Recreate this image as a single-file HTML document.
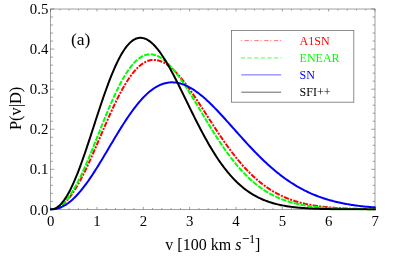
<!DOCTYPE html>
<html><head><meta charset="utf-8"><title>P(v|D)</title>
<style>html,body{margin:0;padding:0;background:#fff;}body{width:415px;height:260px;overflow:hidden;}svg{display:block;will-change:transform;}text{font-family:"Liberation Serif",serif;fill:#000;}</style></head><body>
<svg width="415" height="260" viewBox="0 0 415 260">
<rect x="0" y="0" width="415" height="260" fill="#ffffff"/>
<rect x="50.6" y="9" width="324.4" height="200.4" stroke="#444444" stroke-width="0.5" fill="none"/>
<path d="M50.60,209.40 v-2.50 M50.60,9.00 v2.50 M59.87,209.40 v-1.50 M59.87,9.00 v1.50 M69.14,209.40 v-1.50 M69.14,9.00 v1.50 M78.41,209.40 v-1.50 M78.41,9.00 v1.50 M87.67,209.40 v-1.50 M87.67,9.00 v1.50 M96.94,209.40 v-2.50 M96.94,9.00 v2.50 M106.21,209.40 v-1.50 M106.21,9.00 v1.50 M115.48,209.40 v-1.50 M115.48,9.00 v1.50 M124.75,209.40 v-1.50 M124.75,9.00 v1.50 M134.02,209.40 v-1.50 M134.02,9.00 v1.50 M143.29,209.40 v-2.50 M143.29,9.00 v2.50 M152.55,209.40 v-1.50 M152.55,9.00 v1.50 M161.82,209.40 v-1.50 M161.82,9.00 v1.50 M171.09,209.40 v-1.50 M171.09,9.00 v1.50 M180.36,209.40 v-1.50 M180.36,9.00 v1.50 M189.63,209.40 v-2.50 M189.63,9.00 v2.50 M198.90,209.40 v-1.50 M198.90,9.00 v1.50 M208.17,209.40 v-1.50 M208.17,9.00 v1.50 M217.43,209.40 v-1.50 M217.43,9.00 v1.50 M226.70,209.40 v-1.50 M226.70,9.00 v1.50 M235.97,209.40 v-2.50 M235.97,9.00 v2.50 M245.24,209.40 v-1.50 M245.24,9.00 v1.50 M254.51,209.40 v-1.50 M254.51,9.00 v1.50 M263.78,209.40 v-1.50 M263.78,9.00 v1.50 M273.05,209.40 v-1.50 M273.05,9.00 v1.50 M282.31,209.40 v-2.50 M282.31,9.00 v2.50 M291.58,209.40 v-1.50 M291.58,9.00 v1.50 M300.85,209.40 v-1.50 M300.85,9.00 v1.50 M310.12,209.40 v-1.50 M310.12,9.00 v1.50 M319.39,209.40 v-1.50 M319.39,9.00 v1.50 M328.66,209.40 v-2.50 M328.66,9.00 v2.50 M337.93,209.40 v-1.50 M337.93,9.00 v1.50 M347.19,209.40 v-1.50 M347.19,9.00 v1.50 M356.46,209.40 v-1.50 M356.46,9.00 v1.50 M365.73,209.40 v-1.50 M365.73,9.00 v1.50 M375.00,209.40 v-2.50 M375.00,9.00 v2.50 M50.60,209.40 h3.80 M375.00,209.40 h-3.80 M50.60,201.38 h2.40 M375.00,201.38 h-2.40 M50.60,193.37 h2.40 M375.00,193.37 h-2.40 M50.60,185.35 h2.40 M375.00,185.35 h-2.40 M50.60,177.34 h2.40 M375.00,177.34 h-2.40 M50.60,169.32 h3.80 M375.00,169.32 h-3.80 M50.60,161.30 h2.40 M375.00,161.30 h-2.40 M50.60,153.29 h2.40 M375.00,153.29 h-2.40 M50.60,145.27 h2.40 M375.00,145.27 h-2.40 M50.60,137.26 h2.40 M375.00,137.26 h-2.40 M50.60,129.24 h3.80 M375.00,129.24 h-3.80 M50.60,121.22 h2.40 M375.00,121.22 h-2.40 M50.60,113.21 h2.40 M375.00,113.21 h-2.40 M50.60,105.19 h2.40 M375.00,105.19 h-2.40 M50.60,97.18 h2.40 M375.00,97.18 h-2.40 M50.60,89.16 h3.80 M375.00,89.16 h-3.80 M50.60,81.14 h2.40 M375.00,81.14 h-2.40 M50.60,73.13 h2.40 M375.00,73.13 h-2.40 M50.60,65.11 h2.40 M375.00,65.11 h-2.40 M50.60,57.10 h2.40 M375.00,57.10 h-2.40 M50.60,49.08 h3.80 M375.00,49.08 h-3.80 M50.60,41.06 h2.40 M375.00,41.06 h-2.40 M50.60,33.05 h2.40 M375.00,33.05 h-2.40 M50.60,25.03 h2.40 M375.00,25.03 h-2.40 M50.60,17.02 h2.40 M375.00,17.02 h-2.40 M50.60,9.00 h3.80 M375.00,9.00 h-3.80" stroke="#444444" stroke-width="0.5" fill="none"/>
<defs><clipPath id="c"><rect x="50.1" y="8" width="325.6" height="202.6"/></clipPath></defs>
<g clip-path="url(#c)" fill="none" stroke-linejoin="round">
<path d="M50.60,209.40 L51.76,209.36 L52.92,209.24 L54.08,209.03 L55.23,208.74 L56.39,208.34 L57.55,207.86 L58.71,207.28 L59.87,206.61 L61.03,205.84 L62.19,204.98 L63.34,204.03 L64.50,202.98 L65.66,201.84 L66.82,200.61 L67.98,199.29 L69.14,197.89 L70.30,196.40 L71.45,194.82 L72.61,193.17 L73.77,191.43 L74.93,189.62 L76.09,187.73 L77.25,185.77 L78.41,183.75 L79.56,181.65 L80.72,179.49 L81.88,177.27 L83.04,175.00 L84.20,172.67 L85.36,170.29 L86.52,167.86 L87.67,165.39 L88.83,162.88 L89.99,160.34 L91.15,157.76 L92.31,155.15 L93.47,152.51 L94.63,149.86 L95.78,147.18 L96.94,144.50 L98.10,141.80 L99.26,139.09 L100.42,136.38 L101.58,133.68 L102.74,130.98 L103.89,128.28 L105.05,125.60 L106.21,122.93 L107.37,120.28 L108.53,117.66 L109.69,115.06 L110.85,112.49 L112.00,109.95 L113.16,107.45 L114.32,104.99 L115.48,102.57 L116.64,100.19 L117.80,97.86 L118.96,95.59 L120.11,93.36 L121.27,91.20 L122.43,89.09 L123.59,87.04 L124.75,85.05 L125.91,83.13 L127.07,81.28 L128.22,79.49 L129.38,77.78 L130.54,76.14 L131.70,74.57 L132.86,73.08 L134.02,71.66 L135.18,70.33 L136.33,69.07 L137.49,67.89 L138.65,66.79 L139.81,65.77 L140.97,64.83 L142.13,63.97 L143.29,63.20 L144.44,62.51 L145.60,61.90 L146.76,61.37 L147.92,60.93 L149.08,60.56 L150.24,60.28 L151.40,60.08 L152.55,59.96 L153.71,59.91 L154.87,59.95 L156.03,60.06 L157.19,60.24 L158.35,60.50 L159.51,60.82 L160.66,61.22 L161.82,61.69 L162.98,62.22 L164.14,62.82 L165.30,63.48 L166.46,64.21 L167.62,65.00 L168.77,65.85 L169.93,66.76 L171.09,67.72 L172.25,68.74 L173.41,69.82 L174.57,70.94 L175.73,72.12 L176.88,73.34 L178.04,74.60 L179.20,75.92 L180.36,77.27 L181.52,78.66 L182.68,80.09 L183.84,81.56 L184.99,83.06 L186.15,84.60 L187.31,86.16 L188.47,87.76 L189.63,89.38 L190.79,91.02 L191.95,92.69 L193.10,94.38 L194.26,96.09 L195.42,97.81 L196.58,99.55 L197.74,101.31 L198.90,103.08 L200.06,104.85 L201.21,106.64 L202.37,108.43 L203.53,110.23 L204.69,112.03 L205.85,113.83 L207.01,115.64 L208.17,117.44 L209.32,119.24 L210.48,121.04 L211.64,122.83 L212.80,124.62 L213.96,126.40 L215.12,128.17 L216.28,129.93 L217.43,131.68 L218.59,133.42 L219.75,135.14 L220.91,136.85 L222.07,138.55 L223.23,140.23 L224.39,141.89 L225.54,143.54 L226.70,145.16 L227.86,146.77 L229.02,148.36 L230.18,149.93 L231.34,151.48 L232.50,153.00 L233.65,154.51 L234.81,155.99 L235.97,157.45 L237.13,158.88 L238.29,160.30 L239.45,161.69 L240.61,163.05 L241.76,164.39 L242.92,165.71 L244.08,167.00 L245.24,168.26 L246.40,169.50 L247.56,170.72 L248.72,171.91 L249.87,173.08 L251.03,174.22 L252.19,175.34 L253.35,176.43 L254.51,177.49 L255.67,178.54 L256.83,179.55 L257.98,180.54 L259.14,181.51 L260.30,182.46 L261.46,183.38 L262.62,184.28 L263.78,185.15 L264.94,186.00 L266.09,186.83 L267.25,187.63 L268.41,188.42 L269.57,189.18 L270.73,189.92 L271.89,190.63 L273.05,191.33 L274.20,192.01 L275.36,192.67 L276.52,193.30 L277.68,193.92 L278.84,194.52 L280.00,195.10 L281.16,195.66 L282.31,196.20 L283.47,196.73 L284.63,197.23 L285.79,197.72 L286.95,198.20 L288.11,198.66 L289.27,199.10 L290.42,199.53 L291.58,199.94 L292.74,200.34 L293.90,200.72 L295.06,201.09 L296.22,201.45 L297.38,201.79 L298.53,202.12 L299.69,202.44 L300.85,202.75 L302.01,203.05 L303.17,203.33 L304.33,203.60 L305.49,203.86 L306.64,204.12 L307.80,204.36 L308.96,204.59 L310.12,204.81 L311.28,205.03 L312.44,205.23 L313.60,205.43 L314.75,205.62 L315.91,205.80 L317.07,205.97 L318.23,206.14 L319.39,206.29 L320.55,206.45 L321.71,206.59 L322.86,206.73 L324.02,206.86 L325.18,206.99 L326.34,207.11 L327.50,207.23 L328.66,207.34 L329.82,207.44 L330.97,207.54 L332.13,207.64 L333.29,207.73 L334.45,207.82 L335.61,207.90 L336.77,207.98 L337.93,208.05 L339.08,208.12 L340.24,208.19 L341.40,208.26 L342.56,208.32 L343.72,208.38 L344.88,208.43 L346.04,208.49 L347.19,208.54 L348.35,208.58 L349.51,208.63 L350.67,208.67 L351.83,208.71 L352.99,208.75 L354.15,208.79 L355.30,208.82 L356.46,208.86 L357.62,208.89 L358.78,208.92 L359.94,208.95 L361.10,208.97 L362.26,209.00 L363.41,209.02 L364.57,209.04 L365.73,209.06 L366.89,209.08 L368.05,209.10 L369.21,209.12 L370.37,209.14 L371.52,209.15 L372.68,209.17 L373.84,209.18 L375.00,209.20" stroke="#ff0000" stroke-width="2" stroke-dasharray="0.01,3.325,3.325,3.325" stroke-linecap="square"/>
<path d="M50.60,209.40 L51.76,209.36 L52.92,209.22 L54.08,208.99 L55.23,208.66 L56.39,208.22 L57.55,207.67 L58.71,207.03 L59.87,206.27 L61.03,205.42 L62.19,204.45 L63.34,203.39 L64.50,202.22 L65.66,200.94 L66.82,199.57 L67.98,198.10 L69.14,196.54 L70.30,194.88 L71.45,193.12 L72.61,191.28 L73.77,189.35 L74.93,187.34 L76.09,185.24 L77.25,183.07 L78.41,180.82 L79.56,178.51 L80.72,176.12 L81.88,173.67 L83.04,171.16 L84.20,168.60 L85.36,165.98 L86.52,163.31 L87.67,160.60 L88.83,157.85 L89.99,155.07 L91.15,152.25 L92.31,149.41 L93.47,146.54 L94.63,143.66 L95.78,140.76 L96.94,137.85 L98.10,134.93 L99.26,132.02 L100.42,129.11 L101.58,126.20 L102.74,123.31 L103.89,120.43 L105.05,117.58 L106.21,114.74 L107.37,111.94 L108.53,109.17 L109.69,106.43 L110.85,103.74 L112.00,101.09 L113.16,98.48 L114.32,95.93 L115.48,93.42 L116.64,90.98 L117.80,88.60 L118.96,86.27 L120.11,84.02 L121.27,81.83 L122.43,79.72 L123.59,77.67 L124.75,75.71 L125.91,73.82 L127.07,72.01 L128.22,70.28 L129.38,68.64 L130.54,67.08 L131.70,65.60 L132.86,64.22 L134.02,62.92 L135.18,61.71 L136.33,60.59 L137.49,59.57 L138.65,58.63 L139.81,57.79 L140.97,57.04 L142.13,56.38 L143.29,55.81 L144.44,55.33 L145.60,54.94 L146.76,54.65 L147.92,54.44 L149.08,54.33 L150.24,54.30 L151.40,54.36 L152.55,54.50 L153.71,54.72 L154.87,55.02 L156.03,55.40 L157.19,55.86 L158.35,56.40 L159.51,57.01 L160.66,57.70 L161.82,58.45 L162.98,59.28 L164.14,60.17 L165.30,61.13 L166.46,62.15 L167.62,63.24 L168.77,64.38 L169.93,65.58 L171.09,66.84 L172.25,68.15 L173.41,69.52 L174.57,70.93 L175.73,72.39 L176.88,73.89 L178.04,75.44 L179.20,77.02 L180.36,78.65 L181.52,80.31 L182.68,82.00 L183.84,83.72 L184.99,85.48 L186.15,87.26 L187.31,89.06 L188.47,90.89 L189.63,92.74 L190.79,94.61 L191.95,96.49 L193.10,98.39 L194.26,100.29 L195.42,102.21 L196.58,104.14 L197.74,106.08 L198.90,108.01 L200.06,109.96 L201.21,111.90 L202.37,113.84 L203.53,115.78 L204.69,117.72 L205.85,119.65 L207.01,121.57 L208.17,123.48 L209.32,125.39 L210.48,127.28 L211.64,129.16 L212.80,131.03 L213.96,132.88 L215.12,134.72 L216.28,136.54 L217.43,138.34 L218.59,140.12 L219.75,141.89 L220.91,143.63 L222.07,145.35 L223.23,147.04 L224.39,148.72 L225.54,150.37 L226.70,152.00 L227.86,153.60 L229.02,155.18 L230.18,156.73 L231.34,158.25 L232.50,159.75 L233.65,161.22 L234.81,162.66 L235.97,164.08 L237.13,165.47 L238.29,166.83 L239.45,168.16 L240.61,169.47 L241.76,170.75 L242.92,172.00 L244.08,173.22 L245.24,174.41 L246.40,175.58 L247.56,176.72 L248.72,177.83 L249.87,178.91 L251.03,179.97 L252.19,181.00 L253.35,182.00 L254.51,182.97 L255.67,183.92 L256.83,184.85 L257.98,185.75 L259.14,186.62 L260.30,187.47 L261.46,188.29 L262.62,189.09 L263.78,189.87 L264.94,190.62 L266.09,191.35 L267.25,192.05 L268.41,192.74 L269.57,193.40 L270.73,194.04 L271.89,194.66 L273.05,195.26 L274.20,195.84 L275.36,196.40 L276.52,196.94 L277.68,197.47 L278.84,197.97 L280.00,198.46 L281.16,198.93 L282.31,199.38 L283.47,199.82 L284.63,200.24 L285.79,200.64 L286.95,201.03 L288.11,201.40 L289.27,201.76 L290.42,202.11 L291.58,202.44 L292.74,202.76 L293.90,203.07 L295.06,203.36 L296.22,203.65 L297.38,203.92 L298.53,204.18 L299.69,204.43 L300.85,204.67 L302.01,204.90 L303.17,205.11 L304.33,205.32 L305.49,205.52 L306.64,205.72 L307.80,205.90 L308.96,206.08 L310.12,206.24 L311.28,206.40 L312.44,206.56 L313.60,206.70 L314.75,206.84 L315.91,206.97 L317.07,207.10 L318.23,207.22 L319.39,207.34 L320.55,207.45 L321.71,207.55 L322.86,207.65 L324.02,207.74 L325.18,207.83 L326.34,207.92 L327.50,208.00 L328.66,208.08 L329.82,208.15 L330.97,208.22 L332.13,208.29 L333.29,208.35 L334.45,208.41 L335.61,208.47 L336.77,208.52 L337.93,208.57 L339.08,208.62 L340.24,208.66 L341.40,208.71 L342.56,208.75 L343.72,208.78 L344.88,208.82 L346.04,208.86 L347.19,208.89 L348.35,208.92 L349.51,208.95 L350.67,208.98 L351.83,209.00 L352.99,209.03 L354.15,209.05 L355.30,209.07 L356.46,209.09 L357.62,209.11 L358.78,209.13 L359.94,209.14 L361.10,209.16 L362.26,209.18 L363.41,209.19 L364.57,209.20 L365.73,209.22 L366.89,209.23 L368.05,209.24 L369.21,209.25 L370.37,209.26 L371.52,209.27 L372.68,209.28 L373.84,209.29 L375.00,209.29" stroke="#00ff00" stroke-width="2" stroke-dasharray="3.325,3.325" stroke-linecap="square"/>
<path d="M50.60,209.40 L51.76,209.38 L52.92,209.30 L54.08,209.18 L55.23,209.00 L56.39,208.76 L57.55,208.47 L58.71,208.11 L59.87,207.70 L61.03,207.24 L62.19,206.71 L63.34,206.13 L64.50,205.49 L65.66,204.79 L66.82,204.04 L67.98,203.23 L69.14,202.36 L70.30,201.44 L71.45,200.46 L72.61,199.43 L73.77,198.35 L74.93,197.22 L76.09,196.04 L77.25,194.80 L78.41,193.52 L79.56,192.20 L80.72,190.83 L81.88,189.41 L83.04,187.95 L84.20,186.45 L85.36,184.91 L86.52,183.33 L87.67,181.72 L88.83,180.07 L89.99,178.39 L91.15,176.68 L92.31,174.94 L93.47,173.17 L94.63,171.37 L95.78,169.55 L96.94,167.71 L98.10,165.85 L99.26,163.97 L100.42,162.07 L101.58,160.16 L102.74,158.24 L103.89,156.31 L105.05,154.36 L106.21,152.42 L107.37,150.46 L108.53,148.51 L109.69,146.55 L110.85,144.60 L112.00,142.65 L113.16,140.70 L114.32,138.76 L115.48,136.83 L116.64,134.91 L117.80,133.00 L118.96,131.11 L120.11,129.23 L121.27,127.38 L122.43,125.54 L123.59,123.72 L124.75,121.93 L125.91,120.16 L127.07,118.41 L128.22,116.70 L129.38,115.01 L130.54,113.36 L131.70,111.73 L132.86,110.15 L134.02,108.59 L135.18,107.07 L136.33,105.59 L137.49,104.15 L138.65,102.75 L139.81,101.38 L140.97,100.06 L142.13,98.78 L143.29,97.55 L144.44,96.36 L145.60,95.21 L146.76,94.12 L147.92,93.06 L149.08,92.06 L150.24,91.10 L151.40,90.19 L152.55,89.33 L153.71,88.52 L154.87,87.76 L156.03,87.05 L157.19,86.39 L158.35,85.78 L159.51,85.21 L160.66,84.70 L161.82,84.24 L162.98,83.83 L164.14,83.48 L165.30,83.17 L166.46,82.91 L167.62,82.70 L168.77,82.54 L169.93,82.43 L171.09,82.37 L172.25,82.35 L173.41,82.39 L174.57,82.47 L175.73,82.59 L176.88,82.76 L178.04,82.98 L179.20,83.23 L180.36,83.53 L181.52,83.88 L182.68,84.26 L183.84,84.68 L184.99,85.15 L186.15,85.65 L187.31,86.19 L188.47,86.77 L189.63,87.39 L190.79,88.04 L191.95,88.73 L193.10,89.45 L194.26,90.20 L195.42,90.99 L196.58,91.81 L197.74,92.66 L198.90,93.54 L200.06,94.44 L201.21,95.38 L202.37,96.34 L203.53,97.32 L204.69,98.33 L205.85,99.36 L207.01,100.42 L208.17,101.50 L209.32,102.59 L210.48,103.71 L211.64,104.84 L212.80,106.00 L213.96,107.17 L215.12,108.35 L216.28,109.55 L217.43,110.76 L218.59,111.98 L219.75,113.22 L220.91,114.47 L222.07,115.72 L223.23,116.99 L224.39,118.26 L225.54,119.54 L226.70,120.82 L227.86,122.11 L229.02,123.41 L230.18,124.71 L231.34,126.01 L232.50,127.31 L233.65,128.61 L234.81,129.92 L235.97,131.22 L237.13,132.52 L238.29,133.82 L239.45,135.12 L240.61,136.41 L241.76,137.70 L242.92,138.98 L244.08,140.26 L245.24,141.53 L246.40,142.80 L247.56,144.06 L248.72,145.31 L249.87,146.55 L251.03,147.79 L252.19,149.01 L253.35,150.23 L254.51,151.43 L255.67,152.63 L256.83,153.81 L257.98,154.99 L259.14,156.15 L260.30,157.30 L261.46,158.43 L262.62,159.56 L263.78,160.67 L264.94,161.76 L266.09,162.85 L267.25,163.92 L268.41,164.98 L269.57,166.02 L270.73,167.05 L271.89,168.06 L273.05,169.06 L274.20,170.04 L275.36,171.01 L276.52,171.96 L277.68,172.90 L278.84,173.83 L280.00,174.73 L281.16,175.63 L282.31,176.50 L283.47,177.37 L284.63,178.21 L285.79,179.05 L286.95,179.86 L288.11,180.66 L289.27,181.45 L290.42,182.22 L291.58,182.97 L292.74,183.71 L293.90,184.44 L295.06,185.15 L296.22,185.84 L297.38,186.52 L298.53,187.19 L299.69,187.84 L300.85,188.48 L302.01,189.10 L303.17,189.71 L304.33,190.30 L305.49,190.88 L306.64,191.45 L307.80,192.01 L308.96,192.55 L310.12,193.07 L311.28,193.59 L312.44,194.09 L313.60,194.58 L314.75,195.05 L315.91,195.52 L317.07,195.97 L318.23,196.41 L319.39,196.84 L320.55,197.26 L321.71,197.66 L322.86,198.06 L324.02,198.44 L325.18,198.81 L326.34,199.18 L327.50,199.53 L328.66,199.87 L329.82,200.20 L330.97,200.53 L332.13,200.84 L333.29,201.14 L334.45,201.44 L335.61,201.72 L336.77,202.00 L337.93,202.27 L339.08,202.53 L340.24,202.78 L341.40,203.03 L342.56,203.26 L343.72,203.49 L344.88,203.72 L346.04,203.93 L347.19,204.14 L348.35,204.34 L349.51,204.53 L350.67,204.72 L351.83,204.90 L352.99,205.08 L354.15,205.25 L355.30,205.41 L356.46,205.57 L357.62,205.72 L358.78,205.87 L359.94,206.01 L361.10,206.15 L362.26,206.28 L363.41,206.41 L364.57,206.53 L365.73,206.65 L366.89,206.76 L368.05,206.87 L369.21,206.98 L370.37,207.08 L371.52,207.18 L372.68,207.27 L373.84,207.36 L375.00,207.45" stroke="#0000ff" stroke-width="2" stroke-linecap="square"/>
<path d="M50.60,209.40 L51.76,209.34 L52.92,209.16 L54.08,208.84 L55.23,208.38 L56.39,207.79 L57.55,207.05 L58.71,206.16 L59.87,205.14 L61.03,203.97 L62.19,202.67 L63.34,201.22 L64.50,199.63 L65.66,197.91 L66.82,196.06 L67.98,194.08 L69.14,191.97 L70.30,189.75 L71.45,187.40 L72.61,184.94 L73.77,182.36 L74.93,179.69 L76.09,176.91 L77.25,174.04 L78.41,171.08 L79.56,168.04 L80.72,164.91 L81.88,161.72 L83.04,158.46 L84.20,155.14 L85.36,151.77 L86.52,148.35 L87.67,144.89 L88.83,141.39 L89.99,137.87 L91.15,134.32 L92.31,130.76 L93.47,127.20 L94.63,123.63 L95.78,120.06 L96.94,116.51 L98.10,112.97 L99.26,109.46 L100.42,105.98 L101.58,102.53 L102.74,99.13 L103.89,95.77 L105.05,92.47 L106.21,89.23 L107.37,86.05 L108.53,82.94 L109.69,79.90 L110.85,76.94 L112.00,74.07 L113.16,71.28 L114.32,68.59 L115.48,65.99 L116.64,63.49 L117.80,61.09 L118.96,58.80 L120.11,56.62 L121.27,54.55 L122.43,52.60 L123.59,50.75 L124.75,49.03 L125.91,47.43 L127.07,45.95 L128.22,44.59 L129.38,43.35 L130.54,42.24 L131.70,41.25 L132.86,40.39 L134.02,39.65 L135.18,39.03 L136.33,38.54 L137.49,38.17 L138.65,37.93 L139.81,37.80 L140.97,37.79 L142.13,37.90 L143.29,38.12 L144.44,38.45 L145.60,38.88 L146.76,39.43 L147.92,40.07 L149.08,40.82 L150.24,41.67 L151.40,42.61 L152.55,43.65 L153.71,44.78 L154.87,45.99 L156.03,47.29 L157.19,48.68 L158.35,50.14 L159.51,51.68 L160.66,53.29 L161.82,54.96 L162.98,56.71 L164.14,58.52 L165.30,60.38 L166.46,62.30 L167.62,64.28 L168.77,66.30 L169.93,68.37 L171.09,70.49 L172.25,72.64 L173.41,74.82 L174.57,77.04 L175.73,79.29 L176.88,81.57 L178.04,83.87 L179.20,86.19 L180.36,88.52 L181.52,90.87 L182.68,93.23 L183.84,95.60 L184.99,97.98 L186.15,100.35 L187.31,102.73 L188.47,105.11 L189.63,107.48 L190.79,109.84 L191.95,112.20 L193.10,114.54 L194.26,116.87 L195.42,119.19 L196.58,121.48 L197.74,123.76 L198.90,126.02 L200.06,128.25 L201.21,130.46 L202.37,132.65 L203.53,134.81 L204.69,136.94 L205.85,139.04 L207.01,141.10 L208.17,143.14 L209.32,145.15 L210.48,147.12 L211.64,149.06 L212.80,150.96 L213.96,152.83 L215.12,154.66 L216.28,156.46 L217.43,158.21 L218.59,159.94 L219.75,161.62 L220.91,163.27 L222.07,164.87 L223.23,166.44 L224.39,167.98 L225.54,169.47 L226.70,170.93 L227.86,172.35 L229.02,173.73 L230.18,175.08 L231.34,176.38 L232.50,177.65 L233.65,178.89 L234.81,180.09 L235.97,181.25 L237.13,182.38 L238.29,183.47 L239.45,184.53 L240.61,185.56 L241.76,186.55 L242.92,187.51 L244.08,188.44 L245.24,189.34 L246.40,190.20 L247.56,191.04 L248.72,191.85 L249.87,192.63 L251.03,193.38 L252.19,194.10 L253.35,194.80 L254.51,195.47 L255.67,196.11 L256.83,196.73 L257.98,197.33 L259.14,197.90 L260.30,198.45 L261.46,198.97 L262.62,199.48 L263.78,199.96 L264.94,200.43 L266.09,200.87 L267.25,201.30 L268.41,201.71 L269.57,202.10 L270.73,202.47 L271.89,202.83 L273.05,203.17 L274.20,203.49 L275.36,203.81 L276.52,204.10 L277.68,204.38 L278.84,204.65 L280.00,204.91 L281.16,205.15 L282.31,205.39 L283.47,205.61 L284.63,205.82 L285.79,206.02 L286.95,206.21 L288.11,206.39 L289.27,206.56 L290.42,206.72 L291.58,206.88 L292.74,207.02 L293.90,207.16 L295.06,207.29 L296.22,207.42 L297.38,207.54 L298.53,207.65 L299.69,207.75 L300.85,207.85 L302.01,207.95 L303.17,208.03 L304.33,208.12 L305.49,208.20 L306.64,208.27 L307.80,208.34 L308.96,208.41 L310.12,208.47 L311.28,208.53 L312.44,208.59 L313.60,208.64 L314.75,208.69 L315.91,208.73 L317.07,208.78 L318.23,208.82 L319.39,208.86 L320.55,208.89 L321.71,208.93 L322.86,208.96 L324.02,208.99 L325.18,209.02 L326.34,209.04 L327.50,209.07 L328.66,209.09 L329.82,209.11 L330.97,209.13 L332.13,209.15 L333.29,209.17 L334.45,209.18 L335.61,209.20 L336.77,209.21 L337.93,209.23 L339.08,209.24 L340.24,209.25 L341.40,209.26 L342.56,209.27 L343.72,209.28 L344.88,209.29 L346.04,209.30 L347.19,209.31 L348.35,209.31 L349.51,209.32 L350.67,209.33 L351.83,209.33 L352.99,209.34 L354.15,209.34 L355.30,209.35 L356.46,209.35 L357.62,209.35 L358.78,209.36 L359.94,209.36 L361.10,209.36 L362.26,209.37 L363.41,209.37 L364.57,209.37 L365.73,209.37 L366.89,209.38 L368.05,209.38 L369.21,209.38 L370.37,209.38 L371.52,209.38 L372.68,209.38 L373.84,209.39 L375.00,209.39" stroke="#000000" stroke-width="2" stroke-linecap="square"/>
</g>
<text x="50.70" y="225.8" font-size="14.8" text-anchor="middle">0</text>
<text x="97.04" y="225.8" font-size="14.8" text-anchor="middle">1</text>
<text x="143.39" y="225.8" font-size="14.8" text-anchor="middle">2</text>
<text x="189.73" y="225.8" font-size="14.8" text-anchor="middle">3</text>
<text x="236.07" y="225.8" font-size="14.8" text-anchor="middle">4</text>
<text x="282.41" y="225.8" font-size="14.8" text-anchor="middle">5</text>
<text x="328.76" y="225.8" font-size="14.8" text-anchor="middle">6</text>
<text x="375.10" y="225.8" font-size="14.8" text-anchor="middle">7</text>
<text x="48.3" y="214.50" font-size="14.8" text-anchor="end">0.0</text>
<text x="48.3" y="174.42" font-size="14.8" text-anchor="end">0.1</text>
<text x="48.3" y="134.34" font-size="14.8" text-anchor="end">0.2</text>
<text x="48.3" y="94.26" font-size="14.8" text-anchor="end">0.3</text>
<text x="48.3" y="54.18" font-size="14.8" text-anchor="end">0.4</text>
<text x="48.3" y="14.10" font-size="14.8" text-anchor="end">0.5</text>
<text x="165.3" y="250" font-size="16">v [100 km</text>
<text x="235.2" y="250" font-size="16" font-style="italic">s</text>
<path d="M242.8,238.5 H248.9" stroke="#000" stroke-width="0.8" fill="none"/>
<text x="248.9" y="243.2" font-size="12.5">1</text>
<text x="255.0" y="250" font-size="16">]</text>
<text transform="translate(20.8,108.4) rotate(-90)" font-size="16.4" text-anchor="middle">P(v|D)</text>
<text x="70.9" y="44.7" font-size="17.5">(a)</text>
<rect x="231.5" y="30.5" width="122.3" height="71.7" fill="#fff" stroke="#707070" stroke-width="0.8"/>
<path d="M241.3,40.60 H281.2" stroke="#ff0000" stroke-width="0.55" fill="none" stroke-dasharray="0.01,3.75,3.3,2.77" stroke-linecap="square"/>
<text x="299.6" y="44.8" font-size="12" style="fill:#ff0000">A1SN</text>
<path d="M241.3,57.95 H281.2" stroke="#00ff00" stroke-width="0.7" fill="none" stroke-dasharray="3.325,3.325" stroke-linecap="square"/>
<text x="299.6" y="62.2" font-size="12" style="fill:#00ff00">ENEAR</text>
<path d="M241.3,74.90 H281.2" stroke="#0000ff" stroke-width="0.6" fill="none"/>
<text x="299.6" y="79.1" font-size="12" style="fill:#0000ff">SN</text>
<path d="M241.3,92.20 H281.2" stroke="#000000" stroke-width="0.6" fill="none"/>
<text x="299.6" y="96.4" font-size="12" style="fill:#000000">SFI++</text>
</svg></body></html>
